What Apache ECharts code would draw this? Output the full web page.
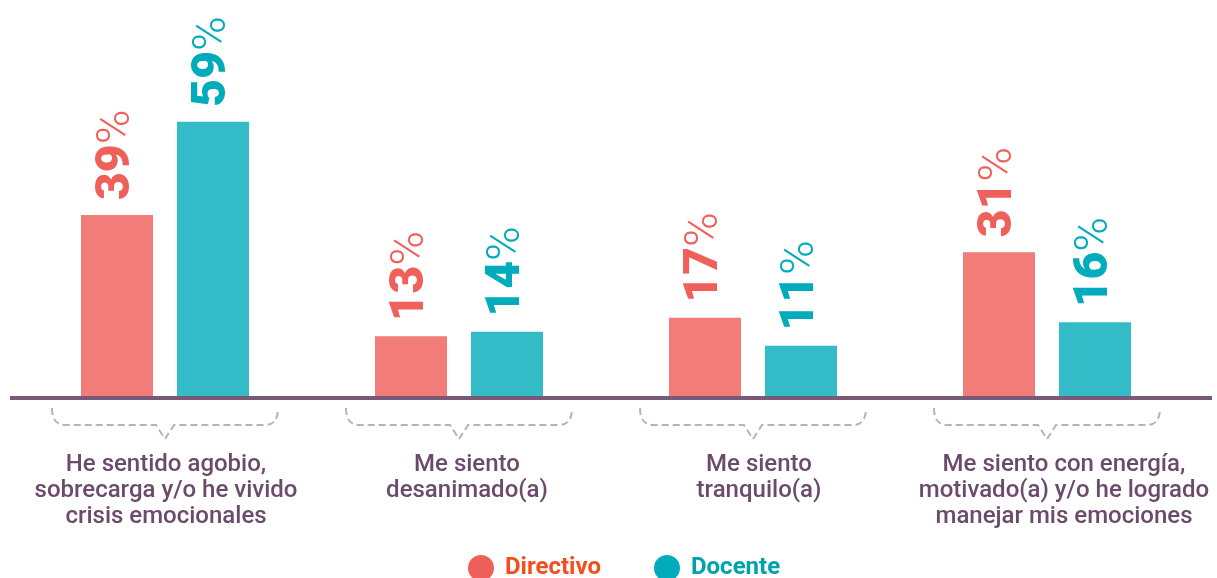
<!DOCTYPE html>
<html>
<head>
<meta charset="utf-8">
<script src="https://cdn.jsdelivr.net/npm/echarts@6/dist/echarts.min.js"></script>
<style>
  html, body { margin: 0; padding: 0; background: #fff; }
  #chart { width: 1217px; height: 578px; }
</style>
</head>
<body>
<div id="chart"></div>
<script>
// datos
const categories = [
  'He sentido agobio,\nsobrecarga y/o he vivido\ncrisis emocionales',
  'Me siento\ndesanimado(a)',
  'Me siento\ntranquilo(a)',
  'Me siento con energía,\nmotivado(a) y/o he logrado\nmanejar mis emociones'
];
const directivo = [39, 13, 17, 31];
const docente = [59, 14, 11, 16];
const seriesNames = ['Directivo', 'Docente'];

const barColors = ['#f27c77', '#33bcc7'];
const labelColors = ['#f0605a', '#00acbb'];
const legendText = ['#f24e1e', '#00a3ab'];

// pequeño corrimiento de las etiquetas del eje (px a la derecha)
const labelShift = [1, 8, 6, 17];

function pctLabel(color) {
  return {
    show: true,
    position: 'top',
    distance: 15,
    rotate: 90,
    align: 'left',
    verticalAlign: 'middle',
    formatter: p => '{n|' + p.value + '}{p|%}',
    rich: {
      n: { fontFamily: 'Roboto', fontWeight: 900, fontSize: 48, color: color },
      p: { fontFamily: 'Roboto', fontWeight: 300, fontSize: 47, color: color }
    }
  };
}

const axisRich = {};
labelShift.forEach((s, i) => {
  axisRich['c' + i] = {
    color: '#6b4a6b',
    fontFamily: 'Roboto',
    fontWeight: 500,
    fontSize: 24,
    lineHeight: 26,
    padding: [0, 0, 0, s * 2]
  };
});

const chart = echarts.init(document.getElementById('chart'));

const option = {
  animation: false,
  grid: { left: 18, right: 23, top: 117, bottom: 181 },
  legend: {
    top: 555,
    left: 468,
    padding: 0,
    icon: 'circle',
    itemWidth: 26,
    itemHeight: 26,
    itemGap: 53,
    textStyle: { fontFamily: 'Roboto', fontWeight: 'bold', fontSize: 24, padding: [0, 0, 0, 6] },
    data: seriesNames.map((n, i) => ({
      name: n,
      itemStyle: { color: labelColors[i] },
      textStyle: { color: legendText[i] }
    }))
  },
  xAxis: {
    type: 'category',
    data: categories,
    axisTick: { show: false },
    axisLine: { show: false },
    axisLabel: {
      interval: 0,
      margin: 55,
      formatter: (v, i) => v.split('\n').map(l => '{c' + i + '|' + l + '}').join('\n'),
      rich: axisRich
    }
  },
  yAxis: {
    type: 'value',
    min: 0,
    max: 60,
    show: false
  },
  series: [
    {
      name: seriesNames[0],
      type: 'bar',
      data: directivo,
      barWidth: 72,
      barGap: '33.3%',
      itemStyle: { color: barColors[0] },
      label: pctLabel(labelColors[0])
    },
    {
      name: seriesNames[1],
      type: 'bar',
      data: docente,
      barWidth: 72,
      itemStyle: { color: barColors[1] },
      label: pctLabel(labelColors[1])
    },
    {
      // llaves punteadas bajo cada categoría
      type: 'custom',
      silent: true,
      clip: false,
      data: categories.map((c, i) => [i]),
      renderItem: function (params, api) {
        const c = api.coord([api.value(0), 0]);
        const x = c[0], y = c[1];
        const w = 113;
        const d = 'M' + (x - w) + ' ' + (y + 11) +
          ' Q' + (x - w) + ' ' + (y + 28) + ' ' + (x - w + 13) + ' ' + (y + 28) +
          ' L' + (x - 9) + ' ' + (y + 28) +
          ' L' + x + ' ' + (y + 42) +
          ' L' + (x + 9) + ' ' + (y + 28) +
          ' L' + (x + w - 13) + ' ' + (y + 28) +
          ' Q' + (x + w) + ' ' + (y + 28) + ' ' + (x + w) + ' ' + (y + 11);
        return {
          type: 'path',
          shape: { pathData: d },
          style: { fill: 'none', stroke: '#b4b4b4', lineWidth: 2, lineDash: [7, 4] }
        };
      }
    }
  ]
};
chart.setOption(option);

// línea base
const base = chart.convertToPixel({ gridIndex: 0 }, [0, 0])[1];
chart.setOption({
  graphic: [{
    type: 'rect',
    shape: { x: 10, y: base - 1, width: 1202, height: 4 },
    style: { fill: '#785a78' },
    z: 10
  }]
});
</script>
</body>
</html>
